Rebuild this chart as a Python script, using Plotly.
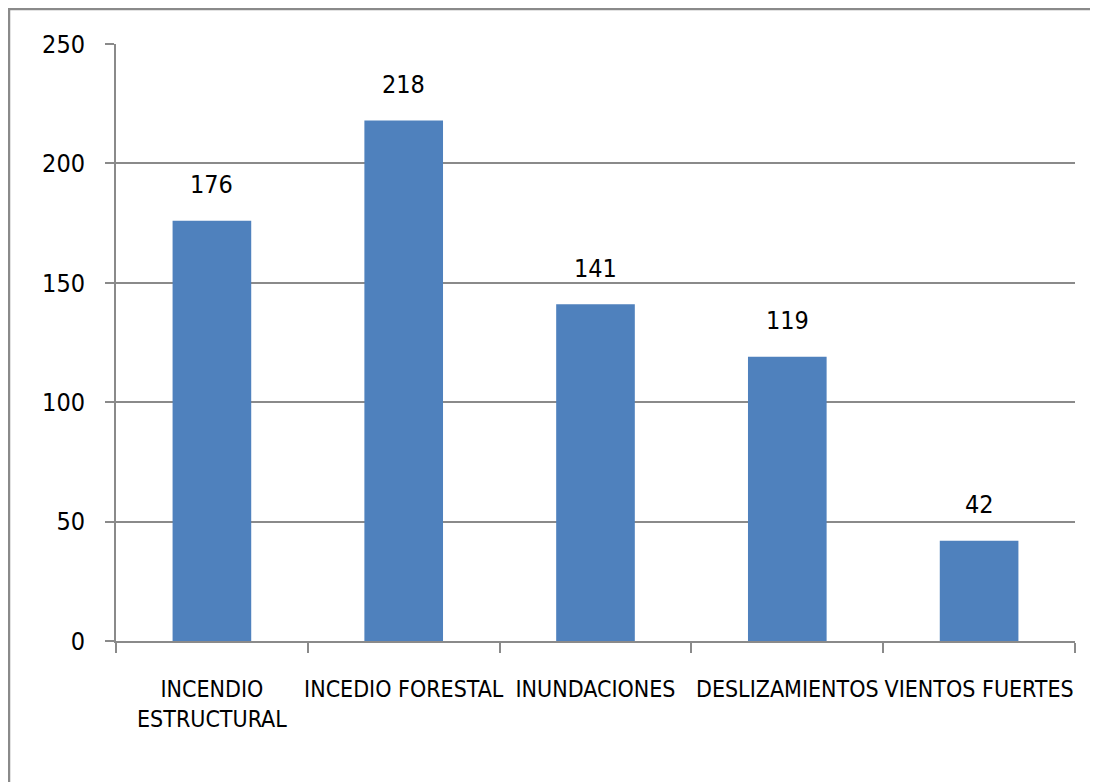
import plotly.graph_objects as go

categories = ["INCENDIO<br>ESTRUCTURAL", "INCEDIO FORESTAL", "INUNDACIONES", "DESLIZAMIENTOS", "VIENTOS FUERTES"]
values = [176, 218, 141, 119, 42]
y_ticks = [0, 50, 100, 150, 200, 250]

# page body has an 8px margin; figure placed at (8, 8)
OFF = 8
W, H = 1098 - OFF, 782 - OFF
L, R, T, B = 116 - OFF, 1075 - OFF, 44 - OFF, 641 - OFF
font_family = "Liberation Sans Narrow, DejaVu Sans Condensed, Lato, sans-serif"
gray = "#8a8a8a"

fig = go.Figure()
fig.add_trace(go.Bar(
    x=categories, y=values,
    marker=dict(color="#4F81BD", line=dict(width=0)),
    width=0.41,
    hoverinfo="x+y",
))

for c, v in zip(categories, values):
    fig.add_annotation(x=c, y=v, text=str(v), showarrow=False,
                       yanchor="middle", yshift=36,
                       font=dict(family=font_family, size=25, color="#000000"))

# outer chart border (left and top visible)
pw, ph = R - L, B - T
def px_x(p):
    return (p - L) / pw
def px_y(p):
    return (B - p) / ph
fig.add_shape(type="path", xref="paper", yref="paper",
              path=f"M {px_x(1)} {px_y(H)} L {px_x(1)} {px_y(1)} L {px_x(W)} {px_y(1)}",
              line=dict(color=gray, width=2.5))

fig.update_layout(
    width=W, height=H,
    margin=dict(l=L, r=W - R, t=T, b=H - B, autoexpand=False),
    paper_bgcolor="white", plot_bgcolor="white",
    showlegend=False,
    bargap=0.59,
    font=dict(family=font_family, size=25, color="#000000"),
    xaxis=dict(
        type="category", tickson="boundaries", ticks="outside", ticklen=10,
        tickwidth=2, tickcolor=gray, showline=True, linecolor=gray, linewidth=2,
        showgrid=False, tickangle=0, ticklabelstandoff=26,
        tickfont=dict(family=font_family, size=23),
        range=[-0.5, 4.5],
    ),
    yaxis=dict(
        range=[0, 250], tickvals=y_ticks, ticks="outside", ticklen=9,
        tickwidth=2, tickcolor=gray, showline=True, linecolor=gray, linewidth=2,
        showgrid=True, gridcolor=gray, gridwidth=2, zeroline=False,
        ticklabelstandoff=15,
        tickfont=dict(family=font_family, size=25),
    ),
)

fig.write_html("out.html")
